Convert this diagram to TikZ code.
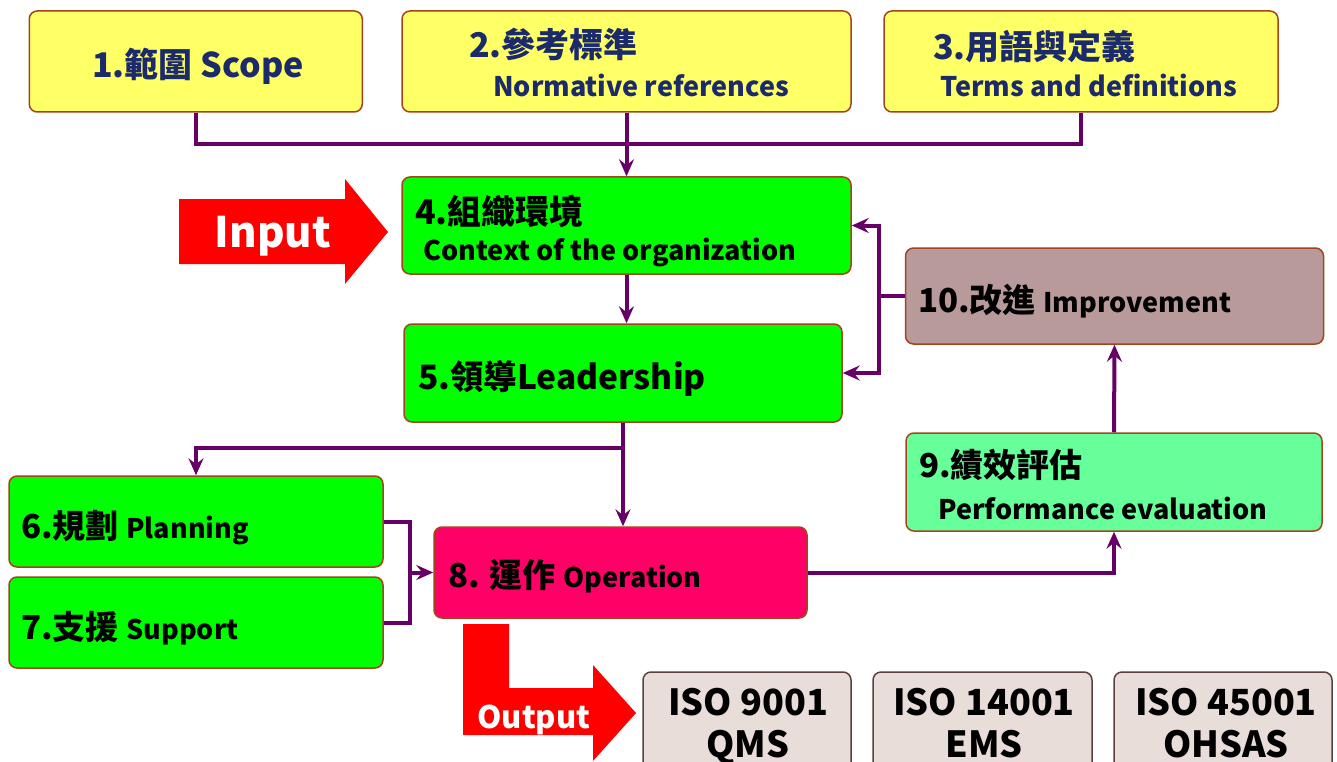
\documentclass[tikz,border=0pt]{standalone}
\usepackage{fontspec}
\setmainfont{Noto Sans CJK TC}
\usetikzlibrary{arrows.meta}
\definecolor{yel}{HTML}{FFFF66}
\definecolor{edge}{HTML}{A4441E}
\definecolor{grn}{HTML}{00FF00}
\definecolor{pnk}{HTML}{FF0066}
\definecolor{mauve}{HTML}{B89A9A}
\definecolor{lgrn}{HTML}{66FF99}
\definecolor{isof}{HTML}{E8DDD9}
\definecolor{isoe}{HTML}{5A4040}
\definecolor{purp}{HTML}{660066}
\definecolor{navy}{HTML}{1B2A6B}
\definecolor{redarr}{HTML}{FF0000}
\newcommand{\fs}[1]{\fontsize{#1}{#1}\selectfont\bfseries}
\begin{document}
\begin{tikzpicture}[x=1pt,y=-1pt,
  box/.style={draw=edge, line width=1.5pt, rounded corners=8pt, inner sep=0pt},
  isobox/.style={draw=isoe, fill=isof, line width=1.5pt, rounded corners=8pt, inner sep=0pt},
  txt/.style={inner sep=0pt, anchor=base west},
  ctxt/.style={inner sep=0pt, anchor=base},
  conn/.style={draw=purp, line width=4pt},
  arr/.style={conn, -{Stealth[length=17pt,width=15pt,inset=6pt]}}]
\clip (0,0) rectangle (1337,762);
\fill[white] (0,0) rectangle (1337,762);
% boxes
\node[box, fill=yel, minimum width=333pt, minimum height=101pt] (b1) at (195.75,61.5) {};
\node[box, fill=yel, minimum width=449pt, minimum height=101pt] (b2) at (626.5,61.5) {};
\node[box, fill=yel, minimum width=394pt, minimum height=101pt] (b3) at (1081,61.5) {};
\node[box, fill=grn, minimum width=449pt, minimum height=97pt] (b4) at (626.5,225.5) {};
\node[box, fill=grn, minimum width=438pt, minimum height=98pt] (b5) at (623,373) {};
\node[box, fill=mauve, minimum width=418pt, minimum height=96pt] (b10) at (1114.5,296) {};
\node[box, fill=lgrn, minimum width=416pt, minimum height=98pt] (b9) at (1114,482) {};
\node[box, fill=grn, minimum width=374pt, minimum height=91pt] (b6) at (196,521.5) {};
\node[box, fill=grn, minimum width=374pt, minimum height=91pt] (b7) at (196,622.5) {};
\node[box, fill=pnk, minimum width=373pt, minimum height=91pt] (b8) at (620.5,572.5) {};
\node[isobox, minimum width=208pt, minimum height=110pt] (i1) at (747,727) {};
\node[isobox, minimum width=219pt, minimum height=110pt] (i2) at (982.5,727) {};
\node[isobox, minimum width=218pt, minimum height=110pt] (i3) at (1223,727) {};
% texts
\node[ctxt, text=navy, font=\fs{34}] (t1) at (198,78) {1.範圍 Scope};
\node[txt, text=navy, font=\fs{34}] (t2a) at (469,58) {2.參考標準};
\node[txt, text=navy, font=\fs{27}] (t2b) at (493,97) {Normative references};
\node[txt, text=navy, font=\fs{34}] (t3a) at (933,60) {3.用語與定義};
\node[txt, text=navy, font=\fs{27}] (t3b) at (940,97) {Terms and definitions};
\node[txt, font=\fs{34}] (t4a) at (415,224) {4.組織環境};
\node[txt, font=\fs{27}] (t4b) at (423,260) {Context of the organization};
\node[txt, font=\fs{33.5}] (t5) at (418,389) {5.領導Leadership};
\node[txt, font=\fs{33}] (t10) at (918,312) {10.改進 {\fs{27}Improvement}};
\node[txt, font=\fs{33}] (t9a) at (919,477) {9.績效評估};
\node[txt, font=\fs{27}] (t9b) at (938,519) {Performance evaluation};
\node[txt, font=\fs{33}] (t6) at (21,538) {6.規劃 {\fs{27}Planning}};
\node[txt, font=\fs{33}] (t7) at (21,639) {7.支援 {\fs{27}Support}};
\node[txt, font=\fs{33}] (t8) at (448,587) {8. 運作 {\fs{27}Operation}};
\node[ctxt, font=\fs{36}] (i1a) at (748,715) {ISO 9001};
\node[ctxt, font=\fs{36}] (i1b) at (748,757) {QMS};
\node[ctxt, font=\fs{36}] (i2a) at (984,715) {ISO 14001};
\node[ctxt, font=\fs{36}] (i2b) at (984,757) {EMS};
\node[ctxt, font=\fs{36}] (i3a) at (1226,715) {ISO 45001};
\node[ctxt, font=\fs{36}] (i3b) at (1226,757) {OHSAS};
% input / output arrows
\fill[redarr] (179,199) -- (345,199) -- (345,179) -- (388,232) -- (345,284) -- (345,264) -- (179,264) -- cycle;
\node[ctxt, text=white, font=\fs{42}] (inp) at (273,247) {Input};
\fill[redarr] (463,624) -- (509,624) -- (509,688) -- (593,688) -- (593,665) -- (636,713) -- (593,761) -- (593,735) -- (463,735) -- cycle;
\node[ctxt, text=white, font=\fs{31}] (outp) at (534,728) {Output};
% connectors
\coordinate (j1) at (626.5,144);
\draw[conn] (b1.south) -- (b1.south |- j1) -- (b3.south |- j1) -- (b3.south);
\draw[arr] (b2.south) -- (b4.north);
\draw[arr] (b4.south) -- (b4.south |- b5.north);
\coordinate (k) at (879,296);
\draw[arr] (b10.west) -- (k) -- (k |- b4.east) -- (b4.east);
\draw[arr] (k) -- (k |- b5.east) -- (b5.east);
\coordinate (m) at (623,448);
\draw[arr] (b5.south) -- (b5.south |- b8.north);
\draw[arr] (m) -- (m -| b6.north) -- (b6.north);
\coordinate (n) at (410,572.5);
\draw[conn] (b6.east) -- (n |- b6.east) -- (n |- b7.east) -- (b7.east);
\draw[arr] (n) -- (b8.west);
\draw[arr] (b8.east) -- (b8.east -| b9.south) -- (b9.south);
\draw[arr] (b9.north) -- (b10.south);
\end{tikzpicture}
\end{document}
